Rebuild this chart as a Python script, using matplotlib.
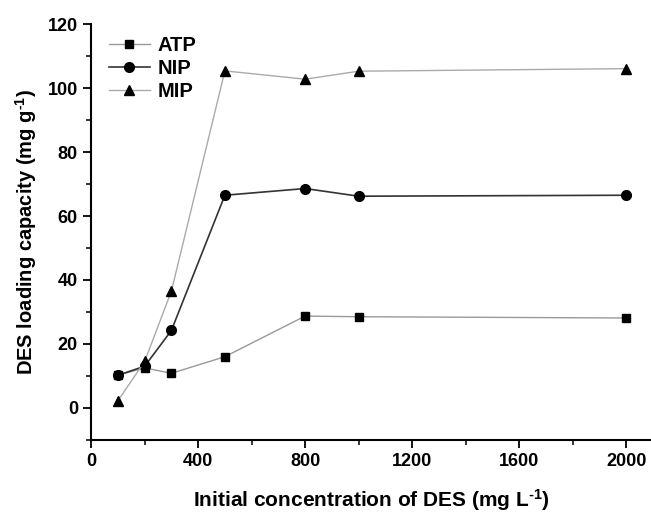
import matplotlib
matplotlib.use("Agg")
import matplotlib.pyplot as plt
from matplotlib.ticker import MultipleLocator

plt.rcParams['font.family'] = ['Liberation Sans', 'DejaVu Sans']
plt.rcParams['font.weight'] = 'bold'
plt.rcParams['mathtext.fontset'] = 'custom'
plt.rcParams['mathtext.rm'] = 'Liberation Sans:bold'
plt.rcParams['mathtext.bf'] = 'Liberation Sans:bold'
plt.rcParams['mathtext.default'] = 'bf'

conc = [100, 200, 300, 500, 800, 1000, 2000]
atp = [10.2, 12.5, 10.8, 16.0, 28.7, 28.5, 28.1]
nip = [10.2, 13.0, 24.2, 66.5, 68.6, 66.2, 66.5]
mip = [2.2, 14.5, 36.5, 105.4, 102.8, 105.3, 106.1]

fig = plt.figure(figsize=(6.51, 5.15), dpi=100)
ax = fig.add_axes([0.14, 0.146, 0.86, 0.807])

ax.plot(conc, atp, color='#999999', lw=1.0, marker='s', ms=6, mfc='black', mec='black', label='ATP')
ax.plot(conc, nip, color='#333333', lw=1.2, marker='o', ms=7, mfc='black', mec='black', label='NIP')
ax.plot(conc, mip, color='#aaaaaa', lw=1.0, marker='^', ms=7.5, mfc='black', mec='black', label='MIP')

ax.set_xlim(0, 2093)
ax.set_ylim(-10, 120)
ax.xaxis.set_major_locator(MultipleLocator(400))
ax.xaxis.set_minor_locator(MultipleLocator(200))
ax.yaxis.set_major_locator(MultipleLocator(20))
ax.yaxis.set_minor_locator(MultipleLocator(10))
ax.spines['top'].set_visible(False)
ax.spines['right'].set_visible(False)
for s in ('left', 'bottom'):
    ax.spines[s].set_linewidth(1.5)
ax.tick_params(which='major', direction='out', length=6, width=1.3, labelsize=13)
ax.tick_params(which='minor', direction='out', length=3.5, width=1.1)
for lab in ax.get_xticklabels() + ax.get_yticklabels():
    lab.set_fontweight('bold')

ax.set_xlabel('Initial concentration of DES (mg L$^{\\text{-1}}$)', fontsize=15, fontweight='bold', labelpad=12)
ax.set_ylabel('DES loading capacity (mg g$^{\\text{-1}}$)', fontsize=14.5, fontweight='bold', labelpad=6)

leg = ax.legend(loc='upper left', bbox_to_anchor=(0.0, 1.015), frameon=False, fontsize=14.5,
                handlelength=2.0, handletextpad=0.4, labelspacing=0.2)

fig.savefig('out.png', dpi=100)
